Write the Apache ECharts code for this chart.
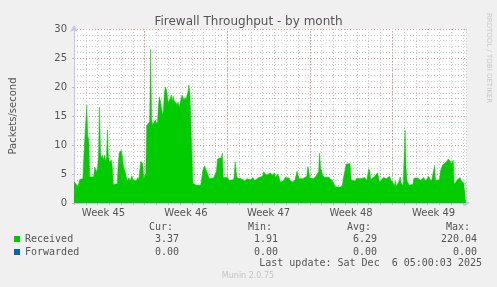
<!DOCTYPE html>
<html>
<head>
<meta charset="utf-8">
<script src="https://cdn.jsdelivr.net/npm/echarts@6/dist/echarts.min.js"></script>
<style>html,body{margin:0;padding:0;background:#f0f0f0;}#c{width:497px;height:287px;}</style>
</head>
<body>
<div id="c"></div>
<script>
// hours since start of graph window (each week = 168 h)
const hours = [0,4,8,10,12,18,20,22,24,26,28,30,32,36,40,42,44,46,48,50,52,54,56,58,60,62,64,66,68,70,72,74,76,78,80,84,88,90,92,96,98,100,102,104,106,108,112,114,118,120,124,126,130,132,134,136,138,140,142,144,146,148,150,152,154,156,158,160,164,166,168,170,172,174,176,178,180,182,184,186,188,190,192,194,196,198,200,202,204,206,208,210,212,214,216,218,220,222,224,226,228,230,232,234,236,238,240,242,246,250,254,258,260,262,264,266,268,270,272,276,280,284,288,290,292,294,296,300,302,304,308,312,316,320,324,326,328,330,332,336,340,344,348,352,356,360,364,368,372,376,380,384,386,390,392,396,400,404,406,408,410,414,418,420,426,430,434,438,440,446,450,454,456,458,462,466,470,474,476,478,480,484,488,492,496,498,500,502,504,506,510,514,518,522,526,530,532,536,540,544,546,548,552,554,558,562,564,568,572,576,580,584,588,592,596,600,602,604,608,612,616,618,620,622,626,630,632,636,640,642,646,650,652,654,656,660,662,664,666,670,672,674,676,678,682,686,690,692,696,700,704,706,710,712,716,720,722,724,728,732,734,736,740,744,746,748,750,754,758,760,762,766,768,770,772,774,778,780,782,786,788,792,794,798];
const received = [3.7,3.4,2.8,3.0,4.1,4.2,8.0,11.2,11.5,16.9,11.4,11.0,4.5,4.3,4.5,6.2,5.8,5.4,6.0,8.5,16.5,8.6,7.8,8.2,7.4,8.3,7.2,7.8,12.6,8.0,7.0,6.8,7.4,6.2,3.2,3.1,3.3,6.8,8.6,9.1,8.3,6.8,6.0,5.4,4.6,3.9,4.3,3.8,4.7,4.0,4.3,3.8,4.4,4.0,5.8,7.2,7.4,6.8,4.2,4.3,5.0,13.4,13.4,13.6,14.0,26.5,14.5,13.5,13.8,14.3,13.6,14.0,17.0,18.3,17.5,16.4,15.2,16.0,19.0,20.0,19.6,18.5,17.2,17.6,17.8,18.6,17.5,18.4,17.6,17.4,17.8,17.0,17.4,16.5,17.2,18.0,18.6,18.4,17.8,18.2,17.8,18.5,19.2,20.4,18.7,18.6,18.4,3.4,3.2,3.0,3.3,3.1,3.4,5.5,6.0,6.4,6.2,6.4,5.0,4.2,4.5,4.3,4.6,5.5,7.6,7.7,7.9,7.8,8.6,4.4,4.2,4.4,3.9,4.1,4.0,4.4,7.1,5.5,4.3,4.0,4.2,4.0,3.8,4.2,4.4,4.0,4.4,3.9,4.1,4.4,4.1,4.6,5.4,5.5,4.8,4.6,5.2,4.7,4.6,5.2,4.4,5.0,4.3,3.6,3.8,4.4,4.6,4.3,3.8,3.6,4.0,5.5,5.3,4.2,4.0,4.2,4.0,4.6,6.3,5.6,4.3,4.5,4.2,4.6,4.8,5.4,8.6,6.0,5.6,4.8,4.4,4.7,4.5,4.8,3.8,3.6,2.8,2.6,2.7,2.6,2.9,4.1,4.2,6.7,6.9,6.8,4.0,3.7,3.8,4.3,4.4,4.2,4.5,4.4,3.9,5.9,5.5,4.0,3.9,4.6,4.4,5.2,4.5,3.6,3.8,4.4,4.6,4.2,4.5,4.6,3.9,3.4,2.9,3.8,2.8,2.8,3.8,4.5,3.4,3.0,3.2,12.6,6.0,3.8,3.1,3.0,3.2,4.3,4.5,4.3,4.5,3.9,4.0,4.4,3.8,4.0,4.6,4.2,3.8,4.0,6.5,3.9,3.8,4.0,5.5,6.0,6.5,6.8,7.1,7.0,7.6,7.2,6.8,7.0,7.4,3.2,3.0,4.0,4.3,4.4,3.9,3.7,3.3,3.37];
const forwardedHours = [0, 798];
const forwarded = [0, 0];
const weekStarts = [144, 312, 480, 648];
const weekLabelHours = [60, 228, 396, 564, 732];
const weekLabels = ['Week 45', 'Week 46', 'Week 47', 'Week 48', 'Week 49'];
const statHeaders = ['Cur:', 'Min:', 'Avg:', 'Max:'];
const receivedStats = ['3.37', '1.91', '6.29', '220.04'];
const forwardedStats = ['0.00', '0.00', '0.00', '0.00'];
const seriesNames = ['Received', 'Forwarded'];
const lastUpdate = 'Last update: Sat Dec  6 05:00:03 2025';

const chart = echarts.init(document.getElementById('c'), null, {renderer: 'canvas'});
const SANS = 'DejaVu Sans', MONO = 'DejaVu Sans Mono';
const axisCol = '#c4c4f2';
const hdrRight = [173, 272, 371, 470];
const valRight = [179, 278, 377, 477];
const graphics = [];
const txt = (x, y, t, align, font, fill) => ({type: 'text', x: x, y: y, style: {text: t, textAlign: align, textVerticalAlign: 'middle', verticalAlign: 'middle', font: font, fill: fill}});
statHeaders.forEach((t, i) => graphics.push(txt(hdrRight[i], 227, t, 'right', '10px ' + MONO, '#555')));
receivedStats.forEach((t, i) => graphics.push(txt(valRight[i], 239, t, 'right', '10px ' + MONO, '#555')));
forwardedStats.forEach((t, i) => graphics.push(txt(valRight[i], 252, t, 'right', '10px ' + MONO, '#555')));
graphics.push(txt(482, 263, lastUpdate, 'right', '10px ' + MONO, '#555'));
graphics.push(txt(248, 276, 'Munin 2.0.75', 'center', '8px ' + SANS, '#c4c4c4'));
const side = txt(489, 58, 'RRDTOOL / TOBI OETIKER', 'center', '7px ' + SANS, '#c8c8c8');
side.rotation = -Math.PI / 2;
graphics.push(side);

chart.setOption({
  animation: false,
  backgroundColor: '#f0f0f0',
  title: {text: 'Firewall Throughput - by month', left: 'center', top: 11, textStyle: {fontFamily: SANS, fontSize: 12, fontWeight: 'normal', color: '#555'}},
  legend: {
    orient: 'vertical', left: 9, top: 228, itemWidth: 6, itemHeight: 6, itemGap: 1,
    textStyle: {fontFamily: MONO, fontSize: 10, color: '#555', lineHeight: 12},
    data: [
      {name: seriesNames[0], icon: 'rect', itemStyle: {color: '#00cc00'}},
      {name: seriesNames[1], icon: 'rect', itemStyle: {color: '#0066b3'}}
    ]
  },
  grid: {left: 67, right: 31, top: 29, bottom: 84, show: true, backgroundColor: '#ffffff', borderWidth: 0},
  xAxis: [
    {
      type: 'value', min: 0, max: 798, interval: 24,
      axisLine: {show: true, lineStyle: {color: axisCol, width: 1}, symbol: ['none', 'arrow'], symbolSize: [6, 7], symbolOffset: [0, 4]},
      axisTick: {show: true, length: 2, lineStyle: {color: '#bbbbbb'}},
      axisLabel: {show: false},
      splitLine: {show: true, lineStyle: {color: '#cccccc', type: [1, 2], width: 1}}
    },
    {
      type: 'value', min: 0, max: 798, interval: 12, position: 'bottom',
      axisLine: {show: false}, axisTick: {show: false}, splitLine: {show: false},
      axisLabel: {show: true, margin: 5, fontFamily: SANS, fontSize: 10, color: '#555', showMaxLabel: false, showMinLabel: false,
        formatter: v => { const i = weekLabelHours.indexOf(Math.round(v)); return i >= 0 ? weekLabels[i] : ''; }}
    }
  ],
  yAxis: {
    type: 'value', min: 0, max: 30, interval: 5,
    name: 'Packets/second', nameLocation: 'middle', nameGap: 56, nameRotate: 90,
    nameTextStyle: {fontFamily: SANS, fontSize: 10, color: '#555'},
    axisLine: {show: true, lineStyle: {color: axisCol, width: 1}, symbol: ['none', 'arrow'], symbolSize: [6, 7], symbolOffset: [0, 4]},
    axisTick: {show: true, length: 2, lineStyle: {color: '#bbbbbb'}},
    minorTick: {show: false, splitNumber: 5},
    axisLabel: {margin: 7, fontFamily: SANS, fontSize: 10, color: '#555'},
    splitLine: {show: true, lineStyle: {color: '#e89a9a', type: [1, 2], width: 1}},
    minorSplitLine: {show: true, lineStyle: {color: '#cccccc', type: [1, 2], width: 1}}
  },
  series: [
    {
      name: seriesNames[1], type: 'line', xAxisIndex: 0, z: 1,
      data: forwardedHours.map((h, i) => [h, forwarded[i]]),
      showSymbol: false, itemStyle: {color: '#0066b3'}, lineStyle: {opacity: 0},
      markLine: {silent: true, z: 1, symbol: ['none', 'none'], label: {show: false},
        lineStyle: {color: '#e89a9a', type: [1, 2], width: 1},
        data: weekStarts.map(h => ({xAxis: h}))}
    },
    {
      name: seriesNames[0], type: 'line', xAxisIndex: 0, z: 3,
      data: hours.map((h, i) => [h, received[i]]),
      showSymbol: false, smooth: false,
      itemStyle: {color: '#00cc00'},
      lineStyle: {color: '#00cc00', width: 0.5},
      areaStyle: {color: '#00cc00', opacity: 1}
    }
  ],
  graphic: graphics
});
</script>
</body>
</html>
